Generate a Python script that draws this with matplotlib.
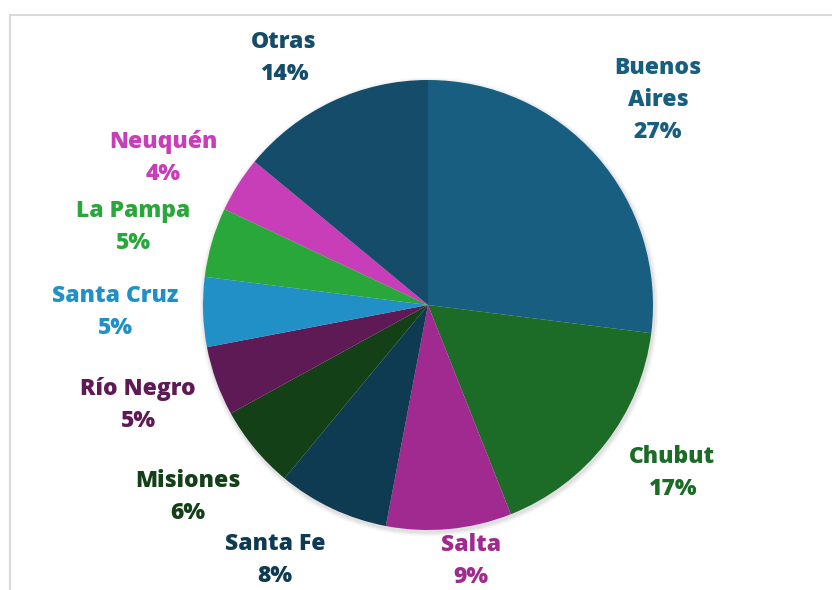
import matplotlib
matplotlib.use("Agg")
import matplotlib.pyplot as plt
from matplotlib.lines import Line2D

# ---- data ----
provinces = ["Buenos\nAires", "Chubut", "Salta", "Santa Fe", "Misiones",
             "Río Negro", "Santa Cruz", "La Pampa", "Neuquén", "Otras"]
shares = [27, 17, 9, 8, 6, 5, 5, 5, 4, 14]
colors = ["#175e80", "#1c6b26", "#a02a90", "#0e3a52", "#134016",
          "#5e1a54", "#2190c6", "#2aa73a", "#c83db8", "#144c69"]

# ---- layout (pixel coords, origin top-left) ----
W, H = 832, 590
cx, cy, R = 428, 305, 225
label_pos = [(658, 100), (672, 473), (471, 561), (275, 560), (188, 497),
             (138, 405), (115, 312), (133, 227), (163, 158), (284, 58)]

plt.rcParams['font.family'] = ['Open Sans', 'DejaVu Sans']

fig = plt.figure(figsize=(W / 100, H / 100), dpi=100)
ax = fig.add_axes([0, 0, 1, 1])
ax.set_xlim(0, W)
ax.set_ylim(0, H)
ax.set_aspect('equal')
ax.axis('off')

# soft shadow
for i, a in enumerate([0.05, 0.04, 0.03]):
    c = plt.Circle((cx + 1, H - cy - 2), R + 1.5 + i * 1.5, color='black', alpha=a, lw=0, zorder=0)
    ax.add_patch(c)

wedges, _ = ax.pie(shares, colors=colors, startangle=90, counterclock=False,
                   center=(cx, H - cy), radius=R, frame=True,
                   wedgeprops=dict(linewidth=0))
ax.set_xlim(0, W)
ax.set_ylim(0, H)
ax.axis('off')

for name, val, col, (lx, ly) in zip(provinces, shares, colors, label_pos):
    ax.text(lx, H - ly, f"{name}\n{val}%", ha='center', va='center',
            fontsize=16.5, fontweight='heavy', color=col, linespacing=1.42)

# chart frame (partially visible)
fig.add_artist(Line2D([10 / W, 1], [1 - 15 / H, 1 - 15 / H], color='#d9d9d9', lw=1.5))
fig.add_artist(Line2D([10 / W, 10 / W], [0, 1 - 15 / H], color='#d9d9d9', lw=1.5))

fig.savefig("out.png", dpi=100)
